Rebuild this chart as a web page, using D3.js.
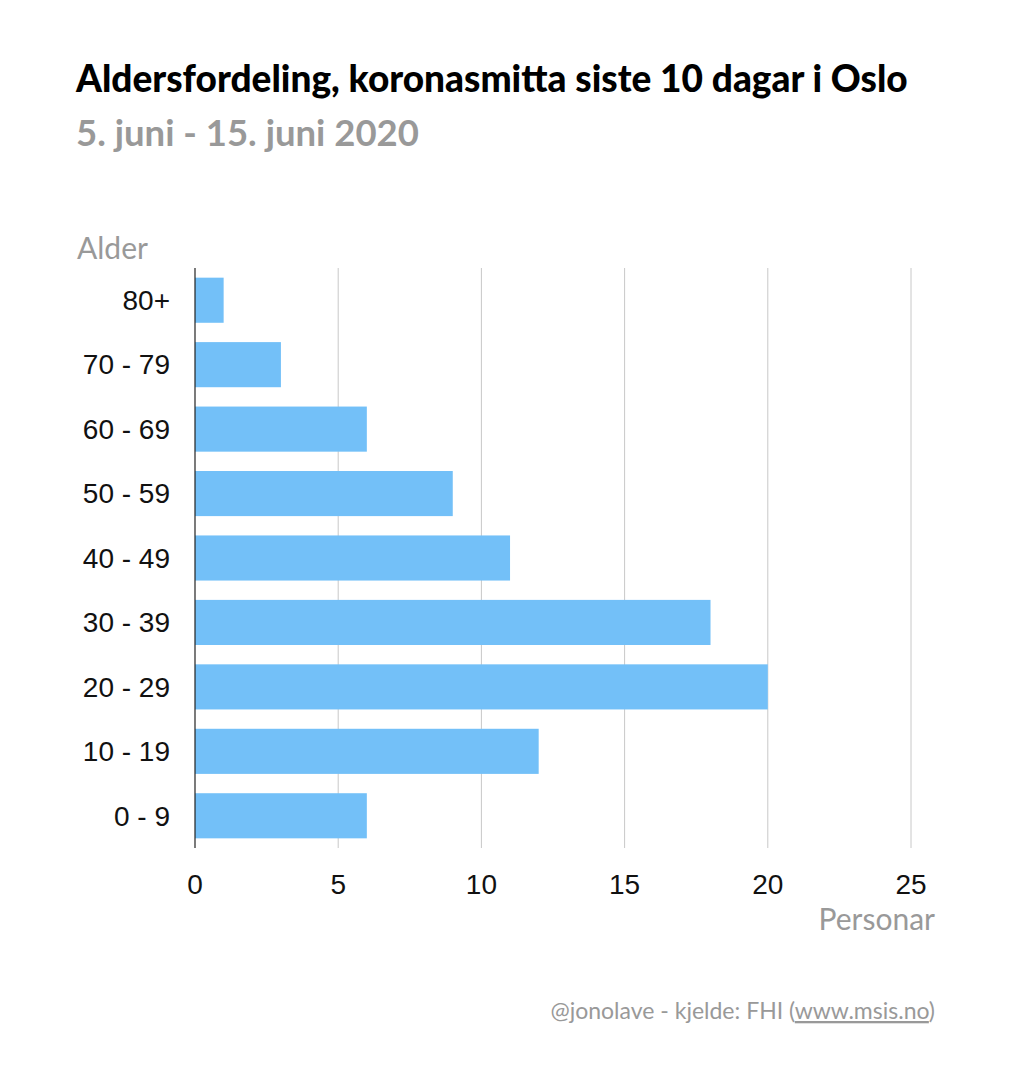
<!DOCTYPE html>
<html>
<head>
<meta charset="utf-8">
<script src="https://cdn.jsdelivr.net/npm/d3@7"></script>
<style>
body { margin: 0; background: #fff; }
</style>
</head>
<body>
<script>
let ageGroups = ["80+", "70 - 79", "60 - 69", "50 - 59", "40 - 49", "30 - 39", "20 - 29", "10 - 19", "0 - 9"];
let persons = [1, 3, 6, 9, 11, 18, 20, 12, 6];
let xTicks = [0, 5, 10, 15, 20, 25];

let width = 1016;
let height = 1082;
let padding = { top: 268, right: 105, bottom: 234, left: 195 };

let svg = d3.select("body")
    .append("svg")
    .attr("width", width)
    .attr("height", height);

let xScale = d3.scaleLinear()
    .domain([0, 25])
    .range([padding.left, width - padding.right]);
let yScale = d3.scaleBand()
    .domain(ageGroups)
    .range([padding.top, height - padding.bottom])
    .paddingInner(0.3)
    .paddingOuter(0.15);

// gridlines
svg.append("g")
    .selectAll("line")
    .data(xTicks.slice(1))
    .join("line")
    .attr("x1", (d) => xScale(d))
    .attr("x2", (d) => xScale(d))
    .attr("y1", padding.top)
    .attr("y2", height - padding.bottom)
    .attr("stroke", "#c8c8c8")
    .attr("stroke-width", 1);

svg.append("g")
    .selectAll("rect")
    .data(persons)
    .join("rect")
    .attr("x", xScale(0))
    .attr("y", (d, i) => yScale(ageGroups[i]))
    .attr("width", (d) => xScale(d) - xScale(0))
    .attr("height", yScale.bandwidth())
    .attr("fill", "#73c0f8");

svg.append("line")
    .attr("x1", xScale(0)).attr("x2", xScale(0))
    .attr("y1", padding.top).attr("y2", height - padding.bottom)
    .attr("stroke", "#222").attr("stroke-width", 1.2);

svg.append("g")
    .selectAll("text")
    .data(ageGroups)
    .join("text")
    .attr("x", 170)
    .attr("y", (d) => yScale(d) + yScale.bandwidth() / 2)
    .attr("dy", "0.35em")
    .attr("text-anchor", "end")
    .text((d) => d)
    .style("font-family", "Liberation Sans, Arial")
    .style("font-size", "28px")
    .style("fill", "#111");

svg.append("g")
    .selectAll("text")
    .data(xTicks)
    .join("text")
    .attr("x", (d) => xScale(d))
    .attr("y", 894)
    .attr("text-anchor", "middle")
    .text((d) => d)
    .style("font-family", "Liberation Sans, Arial")
    .style("font-size", "28px")
    .style("fill", "#111");

svg.append("text")
    .attr("x", 76).attr("y", 92)
    .text("Aldersfordeling, koronasmitta siste 10 dagar i Oslo")
    .style("font-family", "Lato").style("font-weight", "900")
    .style("font-size", "37px").style("fill", "#000");
svg.append("text")
    .attr("x", 76).attr("y", 146)
    .text("5. juni - 15. juni 2020")
    .style("font-family", "Lato").style("font-weight", "bold")
    .style("font-size", "36.5px").style("fill", "#999");
svg.append("text")
    .attr("x", 77).attr("y", 259)
    .text("Alder")
    .style("font-family", "Lato")
    .style("font-size", "30px").style("fill", "#999");
svg.append("text")
    .attr("x", 935).attr("y", 930)
    .attr("text-anchor", "end")
    .text("Personar")
    .style("font-family", "Lato")
    .style("font-size", "30px").style("fill", "#999");

let footer = svg.append("text")
    .attr("x", 935).attr("y", 1019)
    .attr("text-anchor", "end")
    .style("font-family", "Lato")
    .style("font-size", "23px").style("fill", "#999");
footer.append("tspan").text("@jonolave - kjelde: FHI (");
footer.append("tspan").text("www.msis.no").style("text-decoration", "underline");
footer.append("tspan").text(")");
</script>
</body>
</html>
